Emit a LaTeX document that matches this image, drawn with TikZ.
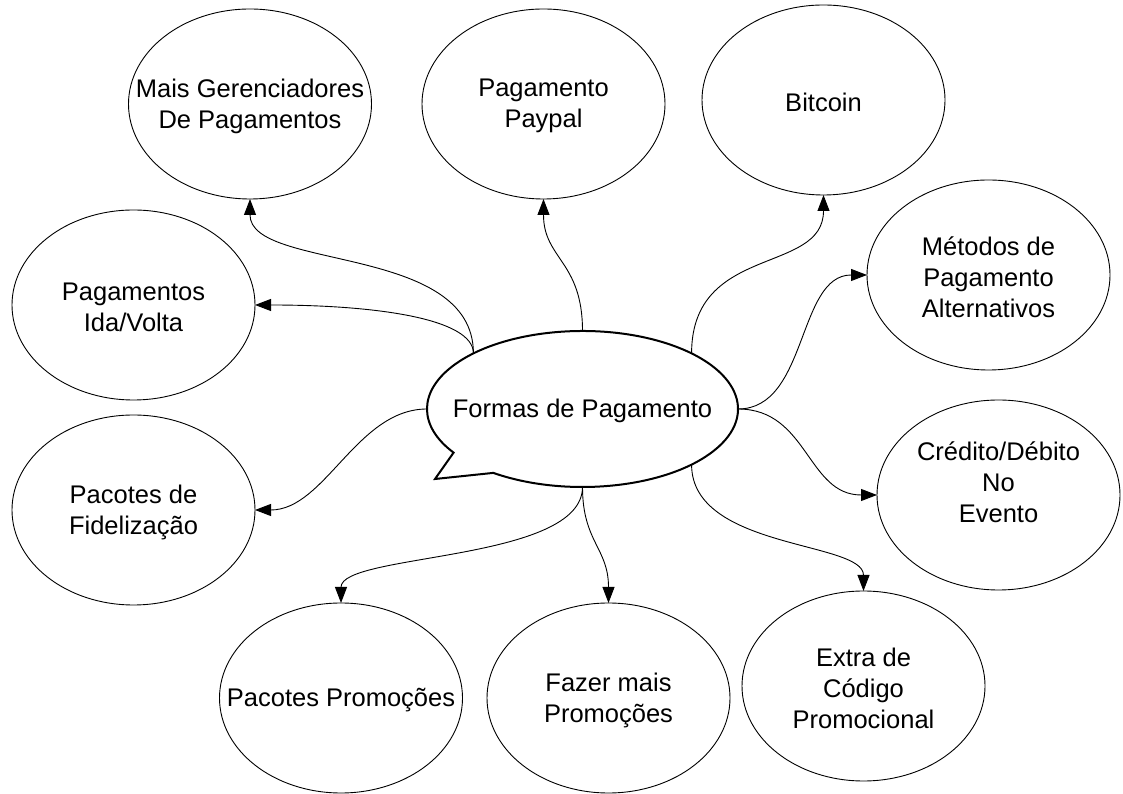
\documentclass[tikz,border=0pt]{standalone}
\usepackage{fontspec}
\setmainfont{Liberation Sans}
\usetikzlibrary{arrows.meta,shapes.geometric,calc}
\tikzset{
  bub/.style={draw, ellipse, minimum width=243pt, minimum height=190pt, inner sep=0pt, outer sep=0pt, line width=0.9pt},
  lbl/.style={align=center, inner sep=0pt, yshift=-2pt, font=\fontsize{25.5}{31}\selectfont},
  con/.style={line width=0.9pt, -{Triangle[length=16pt,width=12pt]}}
}
\begin{document}
\begin{tikzpicture}[x=1pt,y=1pt]
\useasboundingbox (0,0) rectangle (1123,794);
% outer ellipses
\node[bub] (mg)  at (250,690) {};
\node[bub] (pp)  at (543.5,690) {};
\node[bub] (bt)  at (823.5,694) {};
\node[bub] (mpa) at (988.5,519) {};
\node[bub] (piv) at (133.5,489) {};
\node[bub] (pf)  at (133.5,284) {};
\node[bub] (cde) at (998.5,299) {};
\node[bub] (ppr) at (341,96) {};
\node[bub] (fmp) at (608.5,96) {};
\node[bub] (ecp) at (863.5,108) {};
% labels
\node[lbl] (mgt)  at (mg)  {Mais Gerenciadores\\De Pagamentos};
\node[lbl] (ppt)  at (pp)  {Pagamento\\Paypal};
\node[lbl] (btt)  at (bt)  {Bitcoin};
\node[lbl] (mpat) at (mpa) {Métodos de\\Pagamento\\Alternativos};
\node[lbl] (pivt) at (piv) {Pagamentos\\Ida/Volta};
\node[lbl] (pft)  at (pf)  {Pacotes de\\Fidelização};
\node[lbl, yshift=15pt] (cdet) at (cde) {Crédito/Débito\\No\\Evento};
\node[lbl] (pprt) at (ppr) {Pacotes Promoções};
\node[lbl] (fmpt) at (fmp) {Fazer mais\\Promoções};
\node[lbl] (ecpt) at (ecp) {Extra de\\Código\\Promocional};
% central callout
\node[ellipse, minimum width=311pt, minimum height=156pt, inner sep=0pt, outer sep=0pt] (main) at (582.5,385) {};
\draw[line width=2pt, line join=miter] (main.center) ++(235:155.5 and 78)
  arc[start angle=235, end angle=574, x radius=155.5, y radius=78]
  -- (435,315) -- cycle;
\node[lbl] (maint) at (main) {Formas de Pagamento};
% connectors
\draw[con] (main.153) .. controls +(0,110) and +(0,-72) .. (mg.south);
\draw[con] (main.153) .. controls +(0,35) and +(120,0) .. (piv.east);
\draw[con] (main.north) .. controls +(0,70) and +(0,-60) .. (pp.south);
\draw[con] (main.27) .. controls +(0,110) and +(0,-80) .. (bt.south);
\draw[con] (main.east) .. controls +(70,0) and +(-70,0) .. (mpa.west);
\draw[con] (main.east) .. controls +(70,0) and +(-70,0) .. (cde.west);
\draw[con] (main.-27) .. controls +(0,-85) and +(0,50) .. (ecp.north);
\draw[con] (main.south) .. controls +(0,-55) and +(0,55) .. (fmp.north);
\draw[con] (main.south) .. controls +(0,-75) and +(0,50) .. (ppr.north);
\draw[con] (main.west) .. controls +(-70,0) and +(70,0) .. (pf.east);
\end{tikzpicture}
\end{document}
